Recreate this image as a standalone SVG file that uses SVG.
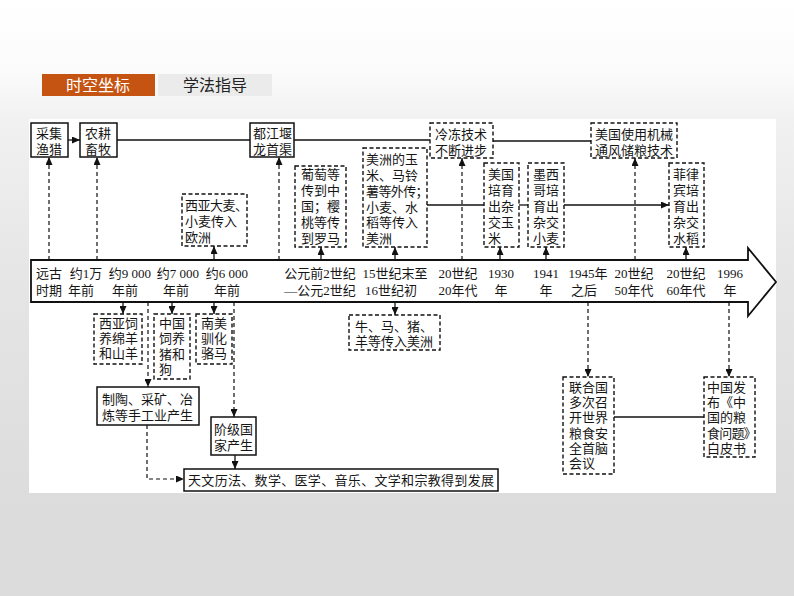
<svg xmlns="http://www.w3.org/2000/svg" width="794" height="596" viewBox="0 0 794 596">
<defs>
<linearGradient id="bg" x1="0" y1="0" x2="0" y2="1">
<stop offset="0" stop-color="#ffffff"/>
<stop offset="0.12" stop-color="#fbfbfb"/>
<stop offset="0.2" stop-color="#f1f1f1"/>
<stop offset="0.45" stop-color="#e6e6e6"/>
<stop offset="0.85" stop-color="#dcdcdc"/>
</linearGradient>
<marker id="ah" markerUnits="userSpaceOnUse" markerWidth="8" markerHeight="7" refX="8" refY="3.5" orient="auto">
<path d="M0,0 L8,3.5 L0,7 z" fill="#111"/>
</marker>
<style>
.t{font-family:'Liberation Serif','Noto Sans CJK SC',serif;font-size:13px;fill:#161616}
.tm{font-family:'Liberation Serif','Noto Sans CJK SC',serif;font-size:13px;fill:#161616;text-anchor:middle}
.sb{fill:#fff;stroke:#111;stroke-width:1.5}
.db{fill:#fff;stroke:#111;stroke-width:1.4;stroke-dasharray:4 2.5}
.sl{fill:none;stroke:#111;stroke-width:1.3}
.dl{fill:none;stroke:#111;stroke-width:1.2;stroke-dasharray:4 3}
.tab{font-family:'Noto Sans CJK SC',sans-serif;font-size:16px;text-anchor:middle}
</style>
</defs>
<rect x="0" y="0" width="794" height="596" fill="url(#bg)"/>
<rect x="29" y="119" width="747" height="374" fill="#ffffff"/>

<g id="tabs">
<rect x="42" y="74" width="113" height="22" fill="#c55311"/>
<text class="tab" x="98" y="91" fill="#ffffff">时空坐标</text>
<rect x="158" y="74" width="114" height="22" fill="#ebebeb"/>
<text class="tab" x="215" y="91" fill="#222">学法指导</text>
</g>

<g id="timeline">
<path d="M31 260 H748 V248 L776 282 L748 316 V302 H31 Z" fill="#fff" stroke="#111" stroke-width="1.8" stroke-linejoin="miter"/>
<text class="tm"><tspan x="49" y="278">远古</tspan><tspan x="49" y="295">时期</tspan></text>
<text class="tm"><tspan x="86" y="278">约1万</tspan><tspan x="81" y="295">年前</tspan></text>
<text class="tm"><tspan x="130" y="278">约9 000</tspan><tspan x="125" y="295">年前</tspan></text>
<text class="tm"><tspan x="178" y="278">约7 000</tspan><tspan x="176" y="295">年前</tspan></text>
<text class="tm"><tspan x="227" y="278">约6 000</tspan><tspan x="227" y="295">年前</tspan></text>
<text class="tm"><tspan x="320" y="278">公元前2世纪</tspan><tspan x="320" y="295">—公元2世纪</tspan></text>
<text class="tm"><tspan x="395" y="278">15世纪末至</tspan><tspan x="391" y="295">16世纪初</tspan></text>
<text class="tm"><tspan x="458" y="278">20世纪</tspan><tspan x="458" y="295">20年代</tspan></text>
<text class="tm"><tspan x="501" y="278">1930</tspan><tspan x="501" y="295">年</tspan></text>
<text class="tm"><tspan x="546" y="278">1941</tspan><tspan x="546" y="295">年</tspan></text>
<text class="tm"><tspan x="588" y="278">1945年</tspan><tspan x="584" y="295">之后</tspan></text>
<text class="tm"><tspan x="634" y="278">20世纪</tspan><tspan x="634" y="295">50年代</tspan></text>
<text class="tm"><tspan x="686" y="278">20世纪</tspan><tspan x="686" y="295">60年代</tspan></text>
<text class="tm"><tspan x="730" y="278">1996</tspan><tspan x="730" y="295">年</tspan></text>
</g>

<g id="connectors">
<path class="sl" d="M68 140 H80" marker-end="url(#ah)"/>
<path class="sl" d="M117 140 H250"/>
<path class="sl" d="M294 140 H430"/>
<path class="sl" d="M493 141 H591"/>
<path class="sl" d="M427 205 H484"/>
<path class="sl" d="M519 205 H528"/>
<path class="sl" d="M564 205 H669" marker-end="url(#ah)"/>
<path class="sl" d="M614 417 H704"/>
<path class="dl" d="M49 260 V157" marker-end="url(#ah)"/>
<path class="dl" d="M97 260 V157" marker-end="url(#ah)"/>
<path class="dl" d="M279 260 V157" marker-end="url(#ah)"/>
<path class="dl" d="M462 260 V158" marker-end="url(#ah)"/>
<path class="dl" d="M635 260 V158" marker-end="url(#ah)"/>
<path class="sl" d="M214 260 V246" marker-end="url(#ah)"/>
<path class="sl" d="M321 260 V247" marker-end="url(#ah)"/>
<path class="sl" d="M395 260 V247" marker-end="url(#ah)"/>
<path class="sl" d="M500 260 V247" marker-end="url(#ah)"/>
<path class="sl" d="M546 260 V247" marker-end="url(#ah)"/>
<path class="sl" d="M686 260 V247" marker-end="url(#ah)"/>
<path class="sl" d="M123 302 V314" marker-end="url(#ah)"/>
<path class="sl" d="M172 302 V314" marker-end="url(#ah)"/>
<path class="sl" d="M214 302 V314" marker-end="url(#ah)"/>
<path class="sl" d="M395 302 V315" marker-end="url(#ah)"/>
<path class="dl" d="M148 302 V387" marker-end="url(#ah)"/>
<path class="dl" d="M234 302 V417" marker-end="url(#ah)"/>
<path class="dl" d="M588 302 V377" marker-end="url(#ah)"/>
<path class="dl" d="M729 302 V377" marker-end="url(#ah)"/>
<path class="sl" d="M235 455 V469" marker-end="url(#ah)"/>
<path class="dl" d="M147 425 V479 H184" marker-end="url(#ah)"/>
</g>

<g id="n-caiji">
<rect class="sb" x="31" y="123" width="37" height="34"/>
<text class="t"><tspan x="36" y="138">采集</tspan><tspan x="36" y="154">渔猎</tspan></text>
</g>
<g id="n-nonggeng">
<rect class="sb" x="80" y="123" width="37" height="34"/>
<text class="t"><tspan x="85" y="138">农耕</tspan><tspan x="85" y="154">畜牧</tspan></text>
</g>
<g id="n-dujiangyan">
<rect class="sb" x="250" y="123" width="44" height="34"/>
<text class="t"><tspan x="253" y="138">都江堰</tspan><tspan x="253" y="154">龙首渠</tspan></text>
</g>
<g id="n-lengdong">
<rect class="db" x="430" y="123" width="63" height="35"/>
<text class="t"><tspan x="435" y="139">冷冻技术</tspan><tspan x="435" y="155">不断进步</tspan></text>
</g>
<g id="n-meiguo-jixie">
<rect class="db" x="591" y="123" width="86" height="35"/>
<text class="t"><tspan x="595" y="139">美国使用机械</tspan><tspan x="595" y="155">通风储粮技术</tspan></text>
</g>
<g id="n-xiya-damai">
<rect class="db" x="182" y="194" width="65" height="52"/>
<text class="t"><tspan x="185" y="210" letter-spacing="-0.5">西亚大麦、</tspan><tspan x="185" y="226">小麦传入</tspan><tspan x="185" y="242">欧洲</tspan></text>
</g>
<g id="n-putao">
<rect class="db" x="295" y="166" width="51" height="81"/>
<text class="t"><tspan x="301" y="179">葡萄等</tspan><tspan x="301" y="195">传到中</tspan><tspan x="301" y="211">国；樱</tspan><tspan x="301" y="227">桃等传</tspan><tspan x="301" y="243">到罗马</tspan></text>
</g>
<g id="n-meizhou">
<rect class="db" x="363" y="148" width="64" height="99"/>
<text class="t"><tspan x="366" y="164">美洲的玉</tspan><tspan x="366" y="180">米、马铃</tspan><tspan x="366" y="196" letter-spacing="-0.6">薯等外传；</tspan><tspan x="366" y="212">小麦、水</tspan><tspan x="366" y="227">稻等传入</tspan><tspan x="366" y="243">美洲</tspan></text>
</g>
<g id="n-meiguo-yumi">
<rect class="db" x="484" y="163" width="35" height="84"/>
<text class="t"><tspan x="488" y="179">美国</tspan><tspan x="488" y="195">培育</tspan><tspan x="488" y="211">出杂</tspan><tspan x="488" y="227">交玉</tspan><tspan x="488" y="243">米</tspan></text>
</g>
<g id="n-moxige">
<rect class="db" x="528" y="163" width="36" height="84"/>
<text class="t"><tspan x="533" y="179">墨西</tspan><tspan x="533" y="195">哥培</tspan><tspan x="533" y="211">育出</tspan><tspan x="533" y="227">杂交</tspan><tspan x="533" y="243">小麦</tspan></text>
</g>
<g id="n-feilvbin">
<rect class="db" x="669" y="163" width="35" height="84"/>
<text class="t"><tspan x="673" y="179">菲律</tspan><tspan x="673" y="195">宾培</tspan><tspan x="673" y="211">育出</tspan><tspan x="673" y="227">杂交</tspan><tspan x="673" y="243">水稻</tspan></text>
</g>

<g id="n-xiya-siyang">
<rect class="db" x="94" y="314" width="48" height="50"/>
<text class="t"><tspan x="99" y="328">西亚饲</tspan><tspan x="99" y="343">养绵羊</tspan><tspan x="99" y="358">和山羊</tspan></text>
</g>
<g id="n-zhongguo-siyang">
<rect class="db" x="154" y="314" width="36" height="65"/>
<text class="t"><tspan x="159" y="328">中国</tspan><tspan x="159" y="343">饲养</tspan><tspan x="159" y="359">猪和</tspan><tspan x="159" y="374">狗</tspan></text>
</g>
<g id="n-nanmei">
<rect class="db" x="196" y="314" width="36" height="50"/>
<text class="t"><tspan x="201" y="328">南美</tspan><tspan x="201" y="343">驯化</tspan><tspan x="201" y="358">骆马</tspan></text>
</g>
<g id="n-zhitao">
<rect class="sb" x="97" y="387" width="102" height="38"/>
<text class="t"><tspan x="102" y="404">制陶、采矿、冶</tspan><tspan x="102" y="420">炼等手工业产生</tspan></text>
</g>
<g id="n-jieji">
<rect class="sb" x="211" y="417" width="45" height="38"/>
<text class="t"><tspan x="214" y="434">阶级国</tspan><tspan x="214" y="450">家产生</tspan></text>
</g>
<g id="n-tianwen">
<rect class="sb" x="184" y="469" width="314" height="22"/>
<text class="t" x="188" y="485" textLength="306" lengthAdjust="spacing">天文历法、数学、医学、音乐、文学和宗教得到发展</text>
</g>
<g id="n-niuma">
<rect class="db" x="349" y="315" width="91" height="35"/>
<text class="t"><tspan x="355" y="331">牛、马、猪、</tspan><tspan x="355" y="346">羊等传入美洲</tspan></text>
</g>
<g id="n-lianheguo">
<rect class="db" x="563" y="377" width="51" height="97"/>
<text class="t"><tspan x="569" y="392">联合国</tspan><tspan x="569" y="407">多次召</tspan><tspan x="569" y="422">开世界</tspan><tspan x="569" y="438">粮食安</tspan><tspan x="569" y="453">全首脑</tspan><tspan x="569" y="468">会议</tspan></text>
</g>
<g id="n-baipishu">
<rect class="db" x="704" y="377" width="51" height="80"/>
<text class="t"><tspan x="707" y="392">中国发</tspan><tspan x="707" y="407">布《中</tspan><tspan x="707" y="422">国的粮</tspan><tspan x="707" y="438" letter-spacing="-0.8">食问题》</tspan><tspan x="707" y="453">白皮书</tspan></text>
</g>
</svg>
